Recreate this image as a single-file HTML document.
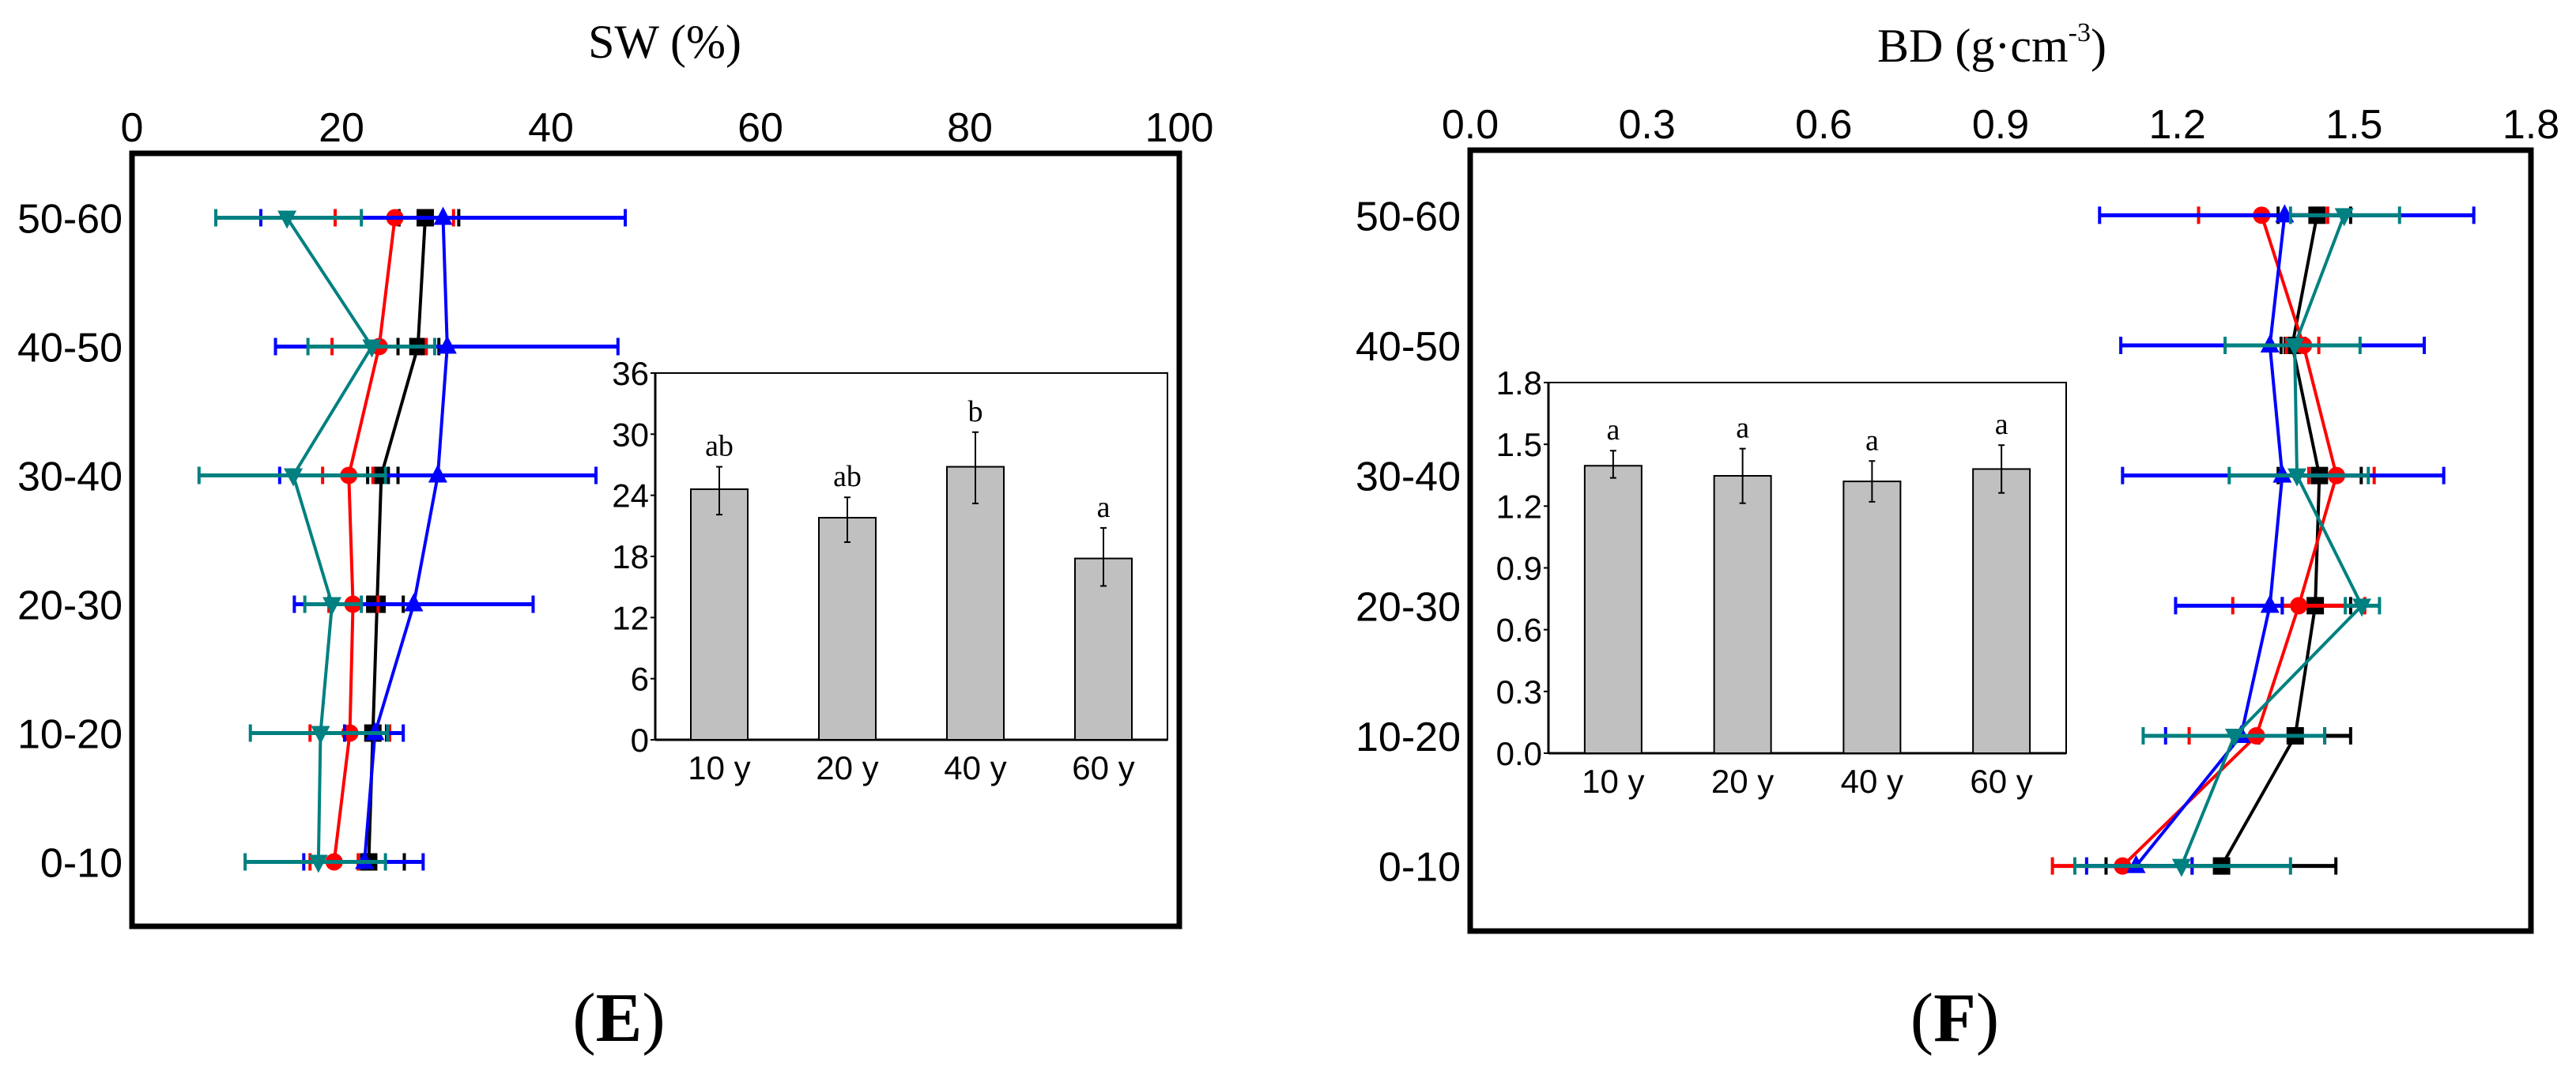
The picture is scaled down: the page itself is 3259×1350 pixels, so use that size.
<!DOCTYPE html>
<html><head><meta charset="utf-8"><style>
html,body{margin:0;padding:0;background:#fff;}
svg{display:block;}
.tk{font-family:"Liberation Sans",Arial,sans-serif;font-size:52px;fill:#000;}
.itk{font-family:"Liberation Sans",Arial,sans-serif;font-size:42px;fill:#000;}
.ser{font-family:"Liberation Serif","Times New Roman",serif;fill:#000;}
</style></head><body>
<svg id="chart" width="3259" height="1350" viewBox="0 0 3259 1350" xmlns="http://www.w3.org/2000/svg">
<text class="ser" x="841" y="73" font-size="60" text-anchor="middle">SW (%)</text>
<text class="ser" x="2520" y="78" font-size="60" text-anchor="middle">BD (g·cm<tspan font-size="34" dy="-26">-3</tspan><tspan dy="26">)</tspan></text>
<text class="ser" x="783" y="1317" font-size="88" text-anchor="middle">(<tspan font-weight="bold">E</tspan>)</text>
<text class="ser" x="2473" y="1317" font-size="88" text-anchor="middle">(<tspan font-weight="bold">F</tspan>)</text>
<g id="g"></g>
</svg>
<script>
const depths = ["0-10","10-20","20-30","30-40","40-50","50-60"];
const seriesNames = ["10 y","20 y","40 y","60 y"];
const colors = ["#000000","#ff0000","#0000ff","#008080"];
// SW (%) per depth 0-10 .. 50-60
const swBlack = [22.6,23.0,23.4,23.8,27.3,28.0];
const swBlackErr = [[22.0,26.0],[20.3,24.3],[22.5,25.9],[22.5,25.4],[25.4,29.3],[25.5,31.2]];
const swRed = [19.3,20.8,21.1,20.7,23.6,25.1];
const swRedErr = [[17.0,21.6],[17.0,24.6],[18.8,23.5],[18.2,23.0],[19.1,28.1],[19.4,30.7]];
const swBlue = [22.2,23.2,26.9,29.2,30.1,29.7];
const swBlueErr = [[16.4,27.8],[20.3,25.9],[15.5,38.3],[14.1,44.3],[13.7,46.4],[12.3,47.1]];
const swTeal = [17.8,18.0,19.1,15.4,22.9,14.8];
const swTealErr = [[10.8,24.2],[11.3,24.4],[16.5,21.9],[6.4,24.2],[16.8,28.9],[8.0,21.9]];
// BD (g/cm3)
const bdBlack = [1.275,1.400,1.434,1.441,1.395,1.437];
const bdBlackErr = [[1.079,1.469],[1.338,1.494],[1.378,1.494],[1.371,1.512],[1.376,1.416],[1.371,1.494]];
const bdRed = [1.107,1.334,1.406,1.470,1.414,1.343];
const bdRedErr = [[0.988,1.225],[1.220,1.450],[1.294,1.518],[1.423,1.534],[1.385,1.440],[1.236,1.455]];
const bdBlue = [1.130,1.308,1.357,1.378,1.357,1.382];
const bdBlueErr = [[1.046,1.225],[1.180,1.450],[1.197,1.378],[1.107,1.652],[1.104,1.619],[1.068,1.703]];
const bdTeal = [1.207,1.297,1.513,1.403,1.399,1.483];
const bdTealErr = [[1.026,1.392],[1.142,1.450],[1.485,1.543],[1.288,1.524],[1.281,1.510],[1.392,1.577]];
// insets
const swBar = [24.6,21.8,26.8,17.8];
const swBarErr = [[22.1,26.8],[19.4,23.8],[23.2,30.2],[15.1,20.8]];
const swBarLetters = ["ab","ab","b","a"];
const swInsetTicks = [0,6,12,18,24,30,36];
const bdBar = [1.396,1.347,1.320,1.380];
const bdBarErr = [[1.337,1.469],[1.214,1.479],[1.221,1.419],[1.264,1.496]];
const bdBarLetters = ["a","a","a","a"];
const bdInsetTicks = [0,0.3,0.6,0.9,1.2,1.5,1.8];
const swTicks = [0,20,40,60,80,100];
const bdTicks = [0,0.3,0.6,0.9,1.2,1.5,1.8];

const NS="http://www.w3.org/2000/svg";
const root=document.getElementById('g');
function el(tag,attrs,parent,text){const e=document.createElementNS(NS,tag);for(const k in attrs)e.setAttribute(k,attrs[k]);if(text!==undefined)e.textContent=text;(parent||root).appendChild(e);return e;}

function panel(P){
  const g=el('g',{});
  
  
  const x=v=>P.x0+(v-P.dmin)/(P.dmax-P.dmin)*(P.x1-P.x0);
  const band=(P.y1-P.y0)/6;
  const y=i=>P.y1-(i+0.5)*band;
  const fr=el('rect',{x:P.x0,y:P.y0,width:P.x1-P.x0,height:P.y1-P.y0,fill:'none',stroke:'#000','stroke-width':7},g);
  
  
  P.ticks.forEach(t=>{
    const tx=el('text',{x:x(t),y:P.y0-15,'text-anchor':'middle',class:'tk'},g,P.fmt(t));
    
    
  });
  depths.forEach((d,i)=>{
    const tx=el('text',{x:P.x0-12,y:y(i)+19,'text-anchor':'end',class:'tk'},g,d);
    
    
  });
  P.series.forEach((s,k)=>{
    const sg=el('g',{},g);
    
    
    const c=colors[k];
    s.err.forEach((e,i)=>{
      const l=el('line',{x1:x(e[0]),x2:x(e[1]),y1:y(i),y2:y(i),stroke:c,'stroke-width':5},sg);
      
      
      [e[0],e[1]].forEach(v=>{const cap=el('line',{x1:x(v),x2:x(v),y1:y(i)-11,y2:y(i)+11,stroke:c,'stroke-width':4},sg);
        
        });
    });
    const pl=el('polyline',{points:s.v.map((v,i)=>x(v)+','+y(i)).join(' '),fill:'none',stroke:c,'stroke-width':4},sg);
    
    
    s.v.forEach((v,i)=>{
      const cx=x(v),cy=y(i);let m;
      if(k===0)m=el('rect',{x:cx-11,y:cy-11,width:22,height:22,fill:c},sg);
      else if(k===1)m=el('circle',{cx:cx,cy:cy,r:11,fill:c},sg);
      else if(k===2)m=el('polygon',{points:`${cx},${cy-14} ${cx-12},${cy+9} ${cx+12},${cy+9}`,fill:c},sg);
      else m=el('polygon',{points:`${cx},${cy+14} ${cx-12},${cy-9} ${cx+12},${cy-9}`,fill:c},sg);
      
      
    });
  });
  const I=P.inset;
  const ig=el('g',{},g);
  
  
  const iy=v=>I.y1-(v-I.min)/(I.max-I.min)*(I.y1-I.y0);
  const bw=(I.x1-I.x0)/4;
  const ir=el('rect',{x:I.x0,y:I.y0,width:I.x1-I.x0,height:I.y1-I.y0,fill:'#fff',stroke:'#000','stroke-width':2},ig);
  
  
  el('line',{x1:I.x0,x2:I.x0,y1:I.y0,y2:I.y1,stroke:'#000','stroke-width':3},ig);
  el('line',{x1:I.x0,x2:I.x1,y1:I.y1,y2:I.y1,stroke:'#000','stroke-width':3},ig);
  I.ticks.forEach(t=>{
    el('line',{x1:I.x0-6,x2:I.x0,y1:iy(t),y2:iy(t),stroke:'#000','stroke-width':2},ig);
    const tx=el('text',{x:I.x0-8,y:iy(t)+15,'text-anchor':'end',class:'itk'},ig,I.fmt(t));
    
    
  });
  I.vals.forEach((v,i)=>{
    const cx=I.x0+bw*(i+0.5);
    const b=el('rect',{x:cx-36,y:iy(v),width:72,height:I.y1-iy(v),fill:'#c0c0c0',stroke:'#000','stroke-width':2},ig);
    
    
    const e=I.err[i];
    el('line',{x1:cx,x2:cx,y1:iy(e[0]),y2:iy(e[1]),stroke:'#000','stroke-width':2},ig);
    el('line',{x1:cx-4,x2:cx+4,y1:iy(e[0]),y2:iy(e[0]),stroke:'#000','stroke-width':2},ig);
    el('line',{x1:cx-4,x2:cx+4,y1:iy(e[1]),y2:iy(e[1]),stroke:'#000','stroke-width':2},ig);
    const lt=el('text',{x:cx,y:iy(e[1])-14,'text-anchor':'middle',class:'ser','font-size':38},ig,I.letters[i]);
    
    
    const cl=el('text',{x:cx,y:I.y1+50,'text-anchor':'middle',class:'itk'},ig,seriesNames[i]);
    
    
  });
}
panel({name:'sw',x0:167,x1:1492,y0:194,y1:1172,dmin:0,dmax:100,ticks:swTicks,fmt:t=>String(t),
  series:[{v:swBlack,err:swBlackErr},{v:swRed,err:swRedErr},{v:swBlue,err:swBlueErr},{v:swTeal,err:swTealErr}],
  inset:{x0:829,x1:1477,y0:472,y1:936,min:0,max:36,ticks:swInsetTicks,fmt:t=>String(t),vals:swBar,err:swBarErr,letters:swBarLetters}});
panel({name:'bd',x0:1860,x1:3202,y0:190,y1:1178,dmin:0,dmax:1.8,ticks:bdTicks,fmt:t=>t.toFixed(1),
  series:[{v:bdBlack,err:bdBlackErr},{v:bdRed,err:bdRedErr},{v:bdBlue,err:bdBlueErr},{v:bdTeal,err:bdTealErr}],
  inset:{x0:1959,x1:2614,y0:484,y1:953,min:0,max:1.8,ticks:bdInsetTicks,fmt:t=>t.toFixed(1),vals:bdBar,err:bdBarErr,letters:bdBarLetters}});
</script>
</body></html>
